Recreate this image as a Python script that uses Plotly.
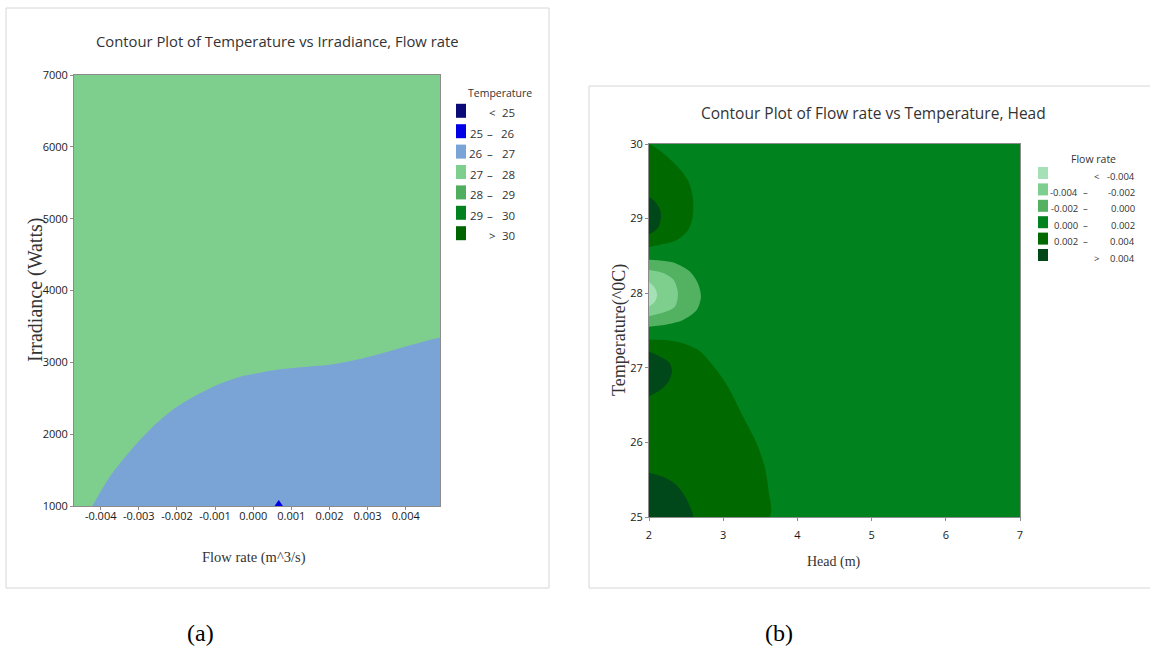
import plotly.graph_objects as go

W, H = 1150, 653

# ---------------- Panel (a): Temperature vs Irradiance, Flow rate ----------------
flow_ticks = [-0.004, -0.003, -0.002, -0.001, 0.0, 0.001, 0.002, 0.003, 0.004]
irr_ticks = [1000, 2000, 3000, 4000, 5000, 6000, 7000]
flow_range = [-0.0047, 0.0049]
irr_range = [1000, 7000]

# boundary between the 26-27 band (below) and the 27-28 band (above)
bnd_flow = [-0.00422, -0.00376, -0.00305, -0.00244, -0.0020, -0.00139, -0.00095,
            -0.00034, 0.00019, 0.00071, 0.00142, 0.00194, 0.00247, 0.00299,
            0.00369, 0.00422, 0.00489]
bnd_irr = [1000, 1408, 1873, 2197, 2382, 2569, 2684, 2800, 2856, 2903, 2940,
           2963, 3009, 3070, 3172, 3251, 3343]

# small 25-26 spot on the bottom edge
spot_flow = [0.00056, 0.00067, 0.00078]
spot_irr = [1000, 1085, 1000]

temp_title = "Temperature"
temp_lo = ["", "25", "26", "27", "28", "29", ""]
temp_sym = ["<", "–", "–", "–", "–", "–", ">"]
temp_hi = ["25", "26", "27", "28", "29", "30", "30"]
temp_colors = ["#0A0A78", "#0000E6", "#7BA4D6", "#7ECE8E", "#4FAF5E", "#00821E", "#006400"]

# ---------------- Panel (b): Flow rate vs Temperature, Head ----------------
head_ticks = [2, 3, 4, 5, 6, 7]
tempb_ticks = [25, 26, 27, 28, 29, 30]
head_range = [2, 7]
tempb_range = [25, 30]

# 0.002 - 0.004 region, top
top_dark_h = [2.0, 2.01, 2.2, 2.4, 2.53, 2.59, 2.59, 2.53, 2.37, 2.15, 2.0]
top_dark_t = [30.0, 30.0, 29.87, 29.68, 29.5, 29.29, 29.03, 28.85, 28.71, 28.65, 28.62]
# 0.002 - 0.004 region, lower
low_dark_h = [2.0, 2.24, 2.46, 2.69, 2.91, 3.09, 3.27, 3.45, 3.56, 3.61, 3.62, 2.0]
low_dark_t = [27.38, 27.37, 27.33, 27.22, 26.97, 26.70, 26.34, 25.99, 25.67, 25.36, 25.0, 25.0]
# > 0.004 spots
spot1_h = [2.0, 2.08, 2.15, 2.16, 2.13, 2.06, 2.0]
spot1_t = [29.29, 29.23, 29.12, 29.0, 28.89, 28.82, 28.79]
spot2_h = [2.0, 2.15, 2.28, 2.31, 2.26, 2.15, 2.0]
spot2_t = [27.22, 27.15, 27.06, 26.95, 26.81, 26.70, 26.62]
spot3_h = [2.0, 2.19, 2.37, 2.49, 2.55, 2.59, 2.0]
spot3_t = [25.59, 25.54, 25.43, 25.27, 25.14, 25.0, 25.0]
# -0.002 - 0.000 region
neg1_h = [2.0, 2.33, 2.55, 2.66, 2.70, 2.64, 2.46, 2.24, 2.0]
neg1_t = [28.45, 28.41, 28.29, 28.13, 27.95, 27.77, 27.64, 27.58, 27.55]
# -0.004 - -0.002 region
neg2_h = [2.0, 2.19, 2.33, 2.39, 2.35, 2.19, 2.0]
neg2_t = [28.31, 28.27, 28.18, 28.0, 27.82, 27.74, 27.69]
# < -0.004 region
neg3_h = [2.0, 2.08, 2.11, 2.08, 2.0]
neg3_t = [28.15, 28.07, 27.98, 27.89, 27.82]

flow_title = "Flow rate"
flow_lo = ["", "-0.004", "-0.002", "0.000", "0.002", ""]
flow_sym = ["<", "–", "–", "–", "–", ">"]
flow_hi = ["-0.004", "-0.002", "0.000", "0.002", "0.004", "0.004"]
flow_colors = ["#A6E0B6", "#7ECE8E", "#52B262", "#00821E", "#006A00", "#00471A"]

SANS = "Open Sans"
SERIF = "Liberation Serif"


def px(x):
    return x / W


def py(y):
    return 1 - y / H


fig = go.Figure()


def region(xs, ys, color, xa, ya, spline=True):
    fig.add_trace(go.Scatter(
        x=xs, y=ys, mode="lines", fill="toself", fillcolor=color,
        line=dict(width=0, shape="spline" if spline else "linear", smoothing=0.8),
        xaxis=xa, yaxis=ya, hoverinfo="skip", showlegend=False))


# Panel (a) fills
region([flow_range[0], flow_range[1], flow_range[1], flow_range[0]],
       [irr_range[0], irr_range[0], irr_range[1], irr_range[1]],
       temp_colors[3], "x", "y", spline=False)
region(bnd_flow + [flow_range[1] + 0.0005, flow_range[1] + 0.0005],
       bnd_irr + [bnd_irr[-1], irr_range[0] - 100],
       temp_colors[2], "x", "y")
region(spot_flow, spot_irr, temp_colors[1], "x", "y", spline=False)

# Panel (b) fills
region([head_range[0], head_range[1], head_range[1], head_range[0]],
       [tempb_range[0], tempb_range[0], tempb_range[1], tempb_range[1]],
       flow_colors[3], "x2", "y2", spline=False)
region(low_dark_h, low_dark_t, flow_colors[4], "x2", "y2")
region(top_dark_h, top_dark_t, flow_colors[4], "x2", "y2")
region(spot1_h, spot1_t, flow_colors[5], "x2", "y2")
region(spot2_h, spot2_t, flow_colors[5], "x2", "y2")
region(spot3_h, spot3_t, flow_colors[5], "x2", "y2")
region(neg1_h, neg1_t, flow_colors[2], "x2", "y2")
region(neg2_h, neg2_t, flow_colors[1], "x2", "y2")
region(neg3_h, neg3_t, flow_colors[0], "x2", "y2")

ax = dict(showgrid=False, zeroline=False, showline=True, mirror=True,
          linecolor="#8c8c8c", linewidth=1, ticks="outside", ticklen=3,
          tickcolor="#8c8c8c", fixedrange=True,
          tickfont=dict(family=SANS, size=11, color="#1a1a1a"))

fig.update_layout(
    width=W, height=H, margin=dict(l=0, r=0, t=0, b=0, autoexpand=False),
    paper_bgcolor="white", plot_bgcolor="white", showlegend=False,
    xaxis=dict(ax, domain=[px(74), px(440)], range=flow_range, anchor="y",
               tickvals=flow_ticks, ticktext=[f"{v:.3f}" for v in flow_ticks],
               ticklabelstandoff=-3),
    yaxis=dict(ax, domain=[py(506), py(75)], range=irr_range, anchor="x",
               tickvals=irr_ticks, ticktext=[str(v) for v in irr_ticks]),
    xaxis2=dict(ax, domain=[px(649), px(1020)], range=head_range, anchor="y2",
                tickvals=head_ticks, ticktext=[str(v) for v in head_ticks],
                ticklabelstandoff=5),
    yaxis2=dict(ax, domain=[py(517), py(144)], range=tempb_range, anchor="x2",
                tickvals=tempb_ticks, ticktext=[str(v) for v in tempb_ticks]),
)

shapes = [
    dict(type="rect", xref="paper", yref="paper", x0=px(6), x1=px(549), y0=py(588), y1=py(8),
         line=dict(color="#d6d6d6", width=1), fillcolor="rgba(0,0,0,0)", layer="below"),
    dict(type="rect", xref="paper", yref="paper", x0=px(589), x1=px(1160), y0=py(588), y1=py(86),
         line=dict(color="#d6d6d6", width=1), fillcolor="rgba(0,0,0,0)", layer="below"),
]
ann = []


def text(x, y, s, size, family=SANS, color="#333333", xanchor="center", angle=0):
    ann.append(dict(x=px(x), y=py(y), xref="paper", yref="paper", text=s, showarrow=False,
                    xanchor=xanchor, yanchor="middle", textangle=angle,
                    font=dict(family=family, size=size, color=color)))


# titles
text(277, 41, "Contour Plot of Temperature vs Irradiance, Flow rate", 14.8)
text(873, 113, "Contour Plot of Flow rate vs Temperature, Head", 15.5)
# axis titles
text(35, 290, "Irradiance (Watts)", 20, SERIF, "#333333", angle=-90)
text(254, 557, "Flow rate (m^3/s)", 14.5, SERIF, "#333333")
text(619, 330, "Temperature(^0C)", 18, SERIF, "#333333", angle=-90)
text(834, 562, "Head (m)", 14, SERIF, "#333333")
# captions
text(200, 633, "(a)", 24, SERIF, "#000000")
text(779, 633, "(b)", 24, SERIF, "#000000")

# legend (a)
text(500, 93, temp_title, 10.5)
for i, c in enumerate(temp_colors):
    ys = 110.8 + i * 20.4
    yt = 113.0 + i * 20.4
    shapes.append(dict(type="rect", xref="paper", yref="paper", x0=px(456), x1=px(466),
                       y0=py(ys + 7), y1=py(ys - 7), line=dict(width=0), fillcolor=c))
    if temp_lo[i]:
        text(485, yt, temp_lo[i], 11.5, xanchor="right")
        text(490, yt, temp_sym[i], 11.5)
    else:
        text(492, yt, temp_sym[i], 11.5)
    text(517, yt, temp_hi[i], 11.5, xanchor="right")

# legend (b)
text(1093, 159, flow_title, 10.5)
for i, c in enumerate(flow_colors):
    ys = 173.0 + i * 16.4
    yt = 176.0 + i * 16.4
    shapes.append(dict(type="rect", xref="paper", yref="paper", x0=px(1038), x1=px(1048),
                       y0=py(ys + 6), y1=py(ys - 6), line=dict(width=0), fillcolor=c))
    if flow_lo[i]:
        text(1080, yt, flow_lo[i], 9.5, xanchor="right")
        text(1085, yt, flow_sym[i], 9.5)
    else:
        text(1096, yt, flow_sym[i], 9.5)
    text(1137, yt, flow_hi[i], 9.5, xanchor="right")

fig.update_layout(shapes=shapes, annotations=ann)
fig.write_html("out.html", config={"displayModeBar": False},
               post_script="document.body.style.margin='0';document.body.style.overflow='hidden';")
